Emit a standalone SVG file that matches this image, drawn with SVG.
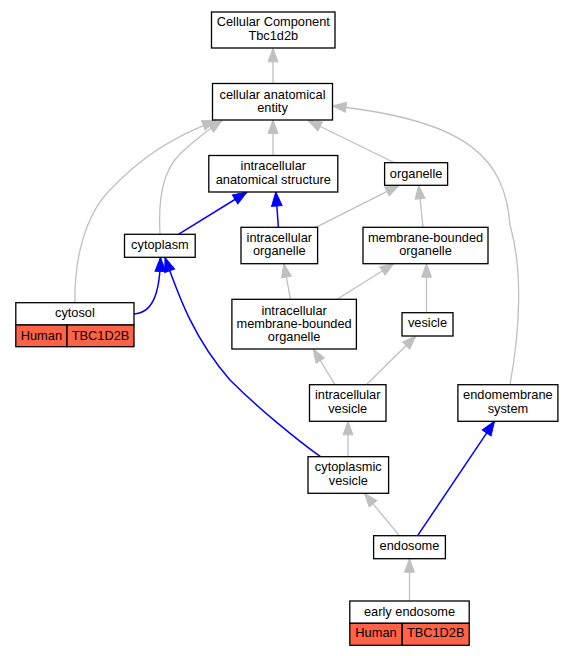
<svg xmlns="http://www.w3.org/2000/svg" width="571" height="656" viewBox="0 0 571 656">
<style>
.box{fill:#ffffff;stroke:#000000;stroke-width:1.3}
.red{fill:#ff6347;stroke:#000000;stroke-width:1.3}
text{font-family:"Liberation Sans",Arial,sans-serif;font-size:12.8px;fill:#000000;text-anchor:middle}
.g{fill:none;stroke:#c0c0c0;stroke-width:1.3;marker-end:url(#ag)}
.b{fill:none;stroke:#0000ff;stroke-width:1.5;marker-end:url(#ab)}
</style>
<defs>
<marker id="ag" markerUnits="userSpaceOnUse" markerWidth="16" markerHeight="12" refX="13.5" refY="5" orient="auto" overflow="visible">
<polygon points="0,0 13.5,5 0,10" fill="#c0c0c0" stroke="#c0c0c0" stroke-width="1"/>
</marker>
<marker id="ab" markerUnits="userSpaceOnUse" markerWidth="16" markerHeight="12" refX="14" refY="5.25" orient="auto" overflow="visible">
<polygon points="0,0 14,5.25 0,10.5" fill="#0000ff" stroke="#0000ff" stroke-width="1"/>
</marker>
</defs>
<rect width="571" height="656" fill="#ffffff"/>
<g id="connectors">
<path class="g" d="M273,83.5 L273,48.3"/>
<path class="g" d="M273,155.5 L273,120"/>
<path class="g" d="M394,162.5 L308,120.5"/>
<path class="g" d="M75,302.7 C74,260 85,215 110,190 C135,163 170,137 216,120.8"/>
<path class="g" d="M160,234.3 C158,200 162,170 182,152 C195,140 208,130 222,120.5"/>
<path class="g" d="M510,384.7 C520,330 523,270 510,225 C505,160 470,120 332.5,106"/>
<path class="b" d="M178.4,234.3 L247,192"/>
<path class="b" d="M278.4,227.3 L275.8,192"/>
<path class="g" d="M315.8,227.3 L399,185.3"/>
<path class="g" d="M423,227.3 L418.7,185.3"/>
<path class="b" d="M134,314 C152,313 160,295 160.5,257.3"/>
<path class="b" d="M320.5,456.7 C300,442 260,410 230,380 C195,340 180,300 165,257.5"/>
<path class="g" d="M290.5,299.3 L283.9,263.7"/>
<path class="g" d="M337,299.3 L393.8,263.7"/>
<path class="g" d="M426.5,312.7 L426.5,263.7"/>
<path class="g" d="M335,384.7 L313.2,349"/>
<path class="g" d="M366.3,384.7 L415.8,336"/>
<path class="g" d="M348,456.7 L348,421.3"/>
<path class="g" d="M399.3,535.7 L364.5,493.3"/>
<path class="b" d="M417.6,535.7 L494.5,421.3"/>
<path class="g" d="M409.5,601 L409.5,558.7"/>
</g>
<g id="n_cc">
<rect class="box" x="211.5" y="12" width="123.5" height="36"/>
<text x="273.3" y="26.2">Cellular Component</text>
<text x="273.3" y="39.5">Tbc1d2b</text>
</g>
<g id="n_cae">
<rect class="box" x="212.5" y="83.5" width="120" height="36.5"/>
<text x="272.5" y="98.5">cellular anatomical</text>
<text x="272.5" y="111.8">entity</text>
</g>
<g id="n_ias">
<rect class="box" x="208.8" y="155.5" width="129" height="36.5"/>
<text x="273.3" y="170.2">intracellular</text>
<text x="273.3" y="183.5">anatomical structure</text>
</g>
<g id="n_organelle">
<rect class="box" x="384.6" y="162.7" width="63" height="22.6"/>
<text x="416.1" y="177.8">organelle</text>
</g>
<g id="n_cytoplasm">
<rect class="box" x="124.5" y="234.3" width="70.7" height="23"/>
<text x="159.9" y="249.2">cytoplasm</text>
</g>
<g id="n_io">
<rect class="box" x="241" y="227.3" width="76.6" height="36.4"/>
<text x="279.3" y="241.8">intracellular</text>
<text x="279.3" y="255.2">organelle</text>
</g>
<g id="n_mbo">
<rect class="box" x="363" y="227.3" width="125" height="36.4"/>
<text x="425.5" y="241.8">membrane-bounded</text>
<text x="425.5" y="255.2">organelle</text>
</g>
<g id="n_cytosol">
<rect class="box" x="15.8" y="302.7" width="118.2" height="22.3"/>
<rect class="red" x="15.8" y="325" width="51.2" height="21.7"/>
<rect class="red" x="67" y="325" width="67" height="21.7"/>
<text x="74.9" y="317.3">cytosol</text>
<text x="41.4" y="339.5">Human</text>
<text x="100.5" y="339.5">TBC1D2B</text>
</g>
<g id="n_imbo">
<rect class="box" x="231.9" y="299.3" width="124.5" height="49.7"/>
<text x="294.1" y="314.5">intracellular</text>
<text x="294.1" y="327.8">membrane-bounded</text>
<text x="294.1" y="341.2">organelle</text>
</g>
<g id="n_vesicle">
<rect class="box" x="402" y="312.7" width="51" height="23.3"/>
<text x="427.5" y="327.2">vesicle</text>
</g>
<g id="n_iv">
<rect class="box" x="309.5" y="384.7" width="76.5" height="36.6"/>
<text x="347.7" y="398.8">intracellular</text>
<text x="347.7" y="412.6">vesicle</text>
</g>
<g id="n_ems">
<rect class="box" x="457.9" y="384.7" width="100" height="36.6"/>
<text x="507.9" y="398.8">endomembrane</text>
<text x="507.9" y="412.6">system</text>
</g>
<g id="n_cv">
<rect class="box" x="308" y="456.7" width="80.6" height="36.6"/>
<text x="348.3" y="471.2">cytoplasmic</text>
<text x="348.3" y="484.8">vesicle</text>
</g>
<g id="n_endosome">
<rect class="box" x="373.6" y="535.7" width="71.8" height="23"/>
<text x="409.5" y="550.2">endosome</text>
</g>
<g id="n_ee">
<rect class="box" x="349.8" y="601" width="119.4" height="22.3"/>
<rect class="red" x="349.8" y="623.3" width="52.4" height="22"/>
<rect class="red" x="402.2" y="623.3" width="67" height="22"/>
<text x="409.5" y="615.5">early endosome</text>
<text x="376" y="637.2">Human</text>
<text x="435.7" y="637.2">TBC1D2B</text>
</g>
</svg>
